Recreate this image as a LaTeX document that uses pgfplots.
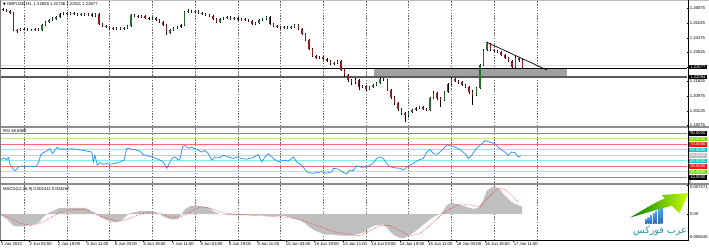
\documentclass[border=0pt]{standalone}
\usepackage{fontspec}
\setmainfont{Liberation Sans}
\newfontfamily\dejavu{DejaVu Sans}
\newfontfamily\arabicfont[Script=Arabic]{DejaVu Sans}
\usepackage{pgfplots}
\pgfplotsset{compat=1.18}
\usepackage{pgfplotstable}
\TeXXeTstate=1
\newcommand\sm{\fontsize{4.2}{4.6}\selectfont}
\definecolor{upc}{RGB}{35,110,40}
\definecolor{dnc}{RGB}{150,25,30}
\definecolor{rsiblue}{RGB}{30,144,255}
\definecolor{lvgreen}{RGB}{195,238,120}
\definecolor{lvred}{RGB}{240,110,110}
\definecolor{lvcyan}{RGB}{150,228,235}
\definecolor{lvgray}{RGB}{205,205,205}
\definecolor{boxgreen}{RGB}{124,220,0}
\definecolor{boxcyan}{RGB}{0,200,210}
\definecolor{boxred}{RGB}{255,20,20}
\definecolor{logoteal}{RGB}{40,150,160}
\definecolor{logoblue}{RGB}{45,105,175}

\pgfplotstableread{
x o h l c
1 1.2605 1.2610 1.2593 1.2599
3 1.2599 1.2605 1.2587 1.2593
5 1.2593 1.2599 1.2575 1.2581
7 1.2581 1.2587 1.2477 1.2482
9 1.2482 1.2488 1.2465 1.2480
11 1.2480 1.2494 1.2477 1.2488
13 1.2488 1.2494 1.2482 1.2486
15 1.2486 1.2494 1.2477 1.2482
17 1.2482 1.2488 1.2477 1.2484
19 1.2484 1.2494 1.2477 1.2488
21 1.2488 1.2494 1.2477 1.2482
23 1.2482 1.2517 1.2477 1.2512
25 1.2512 1.2535 1.2506 1.2529
27 1.2529 1.2546 1.2523 1.2541
29 1.2541 1.2558 1.2535 1.2546
31 1.2546 1.2564 1.2541 1.2558
33 1.2558 1.2581 1.2552 1.2575
35 1.2575 1.2587 1.2570 1.2581
37 1.2581 1.2587 1.2573 1.2575
39 1.2575 1.2587 1.2570 1.2581
41 1.2581 1.2587 1.2570 1.2575
43 1.2575 1.2581 1.2564 1.2570
45 1.2570 1.2581 1.2564 1.2575
47 1.2575 1.2581 1.2564 1.2570
49 1.2570 1.2581 1.2564 1.2575
51 1.2575 1.2581 1.2558 1.2564
53 1.2564 1.2581 1.2558 1.2575
55 1.2575 1.2581 1.2512 1.2517
57 1.2517 1.2523 1.2500 1.2506
59 1.2506 1.2512 1.2494 1.2500
61 1.2500 1.2506 1.2488 1.2494
63 1.2494 1.2500 1.2482 1.2488
65 1.2488 1.2500 1.2482 1.2494
67 1.2494 1.2500 1.2482 1.2488
69 1.2488 1.2500 1.2482 1.2494
71 1.2494 1.2512 1.2488 1.2506
73 1.2506 1.2575 1.2500 1.2570
75 1.2570 1.2575 1.2558 1.2564
77 1.2564 1.2570 1.2552 1.2558
79 1.2558 1.2570 1.2552 1.2564
81 1.2564 1.2570 1.2546 1.2552
83 1.2552 1.2558 1.2541 1.2546
85 1.2546 1.2558 1.2541 1.2552
87 1.2552 1.2558 1.2535 1.2541
89 1.2541 1.2546 1.2523 1.2529
91 1.2529 1.2535 1.2506 1.2512
93 1.2512 1.2517 1.2453 1.2465
95 1.2465 1.2488 1.2459 1.2482
97 1.2482 1.2500 1.2477 1.2494
99 1.2494 1.2506 1.2488 1.2500
101 1.2500 1.2517 1.2494 1.2512
103 1.2512 1.2593 1.2506 1.2587
105 1.2587 1.2605 1.2581 1.2593
107 1.2593 1.2599 1.2581 1.2587
109 1.2587 1.2599 1.2581 1.2593
111 1.2593 1.2599 1.2575 1.2581
113 1.2581 1.2587 1.2570 1.2575
115 1.2575 1.2581 1.2564 1.2570
117 1.2570 1.2575 1.2558 1.2564
119 1.2564 1.2570 1.2541 1.2546
121 1.2546 1.2552 1.2523 1.2529
123 1.2529 1.2552 1.2523 1.2546
125 1.2546 1.2558 1.2541 1.2552
127 1.2552 1.2564 1.2546 1.2558
129 1.2558 1.2564 1.2541 1.2546
131 1.2546 1.2558 1.2541 1.2552
133 1.2552 1.2558 1.2535 1.2541
135 1.2541 1.2552 1.2535 1.2546
137 1.2546 1.2552 1.2535 1.2541
139 1.2541 1.2546 1.2529 1.2535
141 1.2535 1.2541 1.2512 1.2517
143 1.2517 1.2529 1.2512 1.2523
145 1.2523 1.2546 1.2517 1.2541
147 1.2541 1.2552 1.2535 1.2546
149 1.2546 1.2564 1.2541 1.2558
151 1.2558 1.2564 1.2512 1.2517
153 1.2517 1.2523 1.2500 1.2506
155 1.2506 1.2512 1.2494 1.2500
157 1.2500 1.2506 1.2488 1.2494
159 1.2494 1.2506 1.2488 1.2500
161 1.2500 1.2506 1.2488 1.2494
163 1.2494 1.2506 1.2488 1.2500
165 1.2500 1.2517 1.2494 1.2512
167 1.2512 1.2517 1.2482 1.2488
169 1.2488 1.2494 1.2453 1.2459
171 1.2459 1.2465 1.2418 1.2424
173 1.2424 1.2430 1.2366 1.2372
175 1.2372 1.2378 1.2325 1.2331
177 1.2331 1.2337 1.2314 1.2319
179 1.2319 1.2331 1.2314 1.2325
181 1.2325 1.2331 1.2308 1.2314
183 1.2314 1.2319 1.2296 1.2302
185 1.2302 1.2308 1.2279 1.2285
187 1.2285 1.2296 1.2279 1.2290
189 1.2290 1.2308 1.2285 1.2302
191 1.2302 1.2308 1.2244 1.2250
193 1.2250 1.2255 1.2209 1.2220
195 1.2220 1.2226 1.2180 1.2191
197 1.2191 1.2197 1.2162 1.2180
199 1.2180 1.2203 1.2168 1.2191
201 1.2191 1.2197 1.2133 1.2151
203 1.2151 1.2162 1.2145 1.2156
205 1.2156 1.2162 1.2127 1.2139
207 1.2139 1.2156 1.2133 1.2151
209 1.2151 1.2168 1.2145 1.2162
211 1.2162 1.2180 1.2156 1.2174
213 1.2174 1.2209 1.2168 1.2197
215 1.2197 1.2203 1.2186 1.2191
217 1.2191 1.2197 1.2127 1.2133
219 1.2133 1.2139 1.2081 1.2092
221 1.2092 1.2098 1.2046 1.2057
223 1.2057 1.2063 1.2011 1.2022
225 1.2022 1.2028 1.1988 1.1999
227 1.1999 1.2005 1.1947 1.1988
229 1.1988 1.2011 1.1976 1.2005
231 1.2005 1.2022 1.1999 1.2017
233 1.2017 1.2034 1.2011 1.2028
235 1.2028 1.2040 1.2022 1.2034
237 1.2034 1.2040 1.2017 1.2022
239 1.2022 1.2028 1.2011 1.2017
241 1.2017 1.2092 1.2011 1.2086
243 1.2086 1.2127 1.2081 1.2116
245 1.2116 1.2121 1.2075 1.2086
247 1.2086 1.2092 1.2034 1.2075
249 1.2075 1.2127 1.2069 1.2121
251 1.2121 1.2174 1.2116 1.2168
253 1.2168 1.2209 1.2162 1.2197
255 1.2197 1.2203 1.2180 1.2186
257 1.2186 1.2191 1.2168 1.2180
259 1.2180 1.2186 1.2156 1.2162
261 1.2162 1.2168 1.2145 1.2151
263 1.2151 1.2156 1.2110 1.2121
265 1.2121 1.2133 1.2046 1.2104
267 1.2104 1.2151 1.2098 1.2145
269 1.2145 1.2285 1.2139 1.2279
271 1.2279 1.2372 1.2273 1.2366
273 1.2366 1.2413 1.2360 1.2401
275 1.2401 1.2407 1.2360 1.2366
277 1.2366 1.2372 1.2354 1.2360
279 1.2360 1.2366 1.2349 1.2354
281 1.2354 1.2360 1.2331 1.2337
283 1.2337 1.2343 1.2314 1.2319
285 1.2319 1.2325 1.2296 1.2302
287 1.2302 1.2308 1.2261 1.2267
289 1.2267 1.2331 1.2261 1.2319
291 1.2319 1.2325 1.2296 1.2308
293 1.2308 1.2314 1.2261 1.2267
}\price

\pgfplotstableread{
x r
0 42.3
1.3 45.2
3.2 42.3
4.1 45.9
5.1 33.4
6.9 24.5
7.9 22.0
8.8 24.5
9.7 29.1
11.6 30.4
13.5 29.1
16.3 30.4
19.1 29.1
20.1 30.9
21.5 41.1
22.3 51.3
23.8 54.8
25.7 57.7
27.5 62.0
29.0 53.0
30.3 58.9
31.6 64.8
32.8 62.0
34.1 60.7
35.0 62.0
36.9 60.7
39.7 62.0
42.5 60.7
46.2 58.9
49.0 57.2
51.0 55.9
51.9 38.0
52.8 50.0
54.1 32.1
55.6 37.0
57.5 33.4
59.4 35.2
61.2 33.4
64.0 35.2
66.9 38.0
69.1 41.1
70.6 62.0
71.5 63.0
73.4 60.7
75.3 60.2
78.1 57.2
79.9 51.3
82.8 48.8
85.6 45.9
88.4 42.9
91.2 38.0
93.1 26.3
94.0 32.1
95.9 44.1
97.8 47.0
99.6 41.1
100.6 44.1
102.1 66.6
103.4 67.9
105.2 63.0
107.1 64.8
109.9 60.7
112.8 55.9
114.6 58.9
116.5 53.0
118.4 41.1
120.2 47.0
123.0 45.9
124.9 50.0
127.7 47.0
130.5 44.1
132.4 47.0
135.2 44.1
138.0 42.9
141.7 45.9
144.6 51.3
146.5 38.0
148.3 47.0
150.2 53.0
153.0 44.1
155.8 38.0
158.6 41.1
161.4 39.3
164.2 47.0
166.1 38.0
168.9 32.1
171.7 20.2
174.6 17.3
177.4 18.4
180.2 20.2
183.0 17.3
185.8 20.2
186.7 26.3
189.5 25.0
191.4 20.2
194.2 16.1
196.1 23.2
197.9 22.0
199.8 30.9
202.6 28.0
205.4 29.1
208.3 33.4
211.1 44.1
212.9 47.0
214.8 44.1
216.7 35.2
218.5 29.1
221.3 27.3
224.2 26.3
226.0 23.2
228.8 30.9
231.6 35.2
234.4 41.1
237.2 44.1
239.2 55.9
241.0 60.7
242.9 53.0
245.1 51.8
247.6 58.9
249.4 64.8
250.4 69.1
253.2 66.6
255.1 64.8
256.9 62.0
259.7 55.9
261.6 50.0
262.5 44.1
264.4 50.0
267.2 63.0
270.1 70.9
271.9 76.8
274.7 73.8
277.5 70.9
280.3 62.0
283.1 55.9
285.0 50.0
286.9 55.9
288.8 54.8
290.6 47.0
292.0 48.7
}\rsi

\pgfplotstableread{
x v
0 0
0 -0.00026
1.7 -0.00078
3.4 -0.0013
5.1 -0.00208
6.7 -0.00286
9.0 -0.00312
10.7 -0.00312
12.4 -0.00312
14.6 -0.00286
16.3 -0.00286
18.0 -0.0026
20.2 -0.00234
21.9 -0.00182
23.6 -0.00078
25.8 0
27.5 0.00052
29.2 0.00078
31.5 0.0013
33.1 0.00156
36.0 0.00156
38.8 0.00156
41.6 0.00156
44.4 0.00156
47.2 0.00156
48.9 0.0013
50.6 0.00078
52.8 0.00026
54.5 -0.00026
56.2 -0.00078
58.4 -0.0013
61.2 -0.00182
64.0 -0.00208
66.9 -0.00182
68.5 -0.0013
70.2 -0.00052
72.5 0.00026
75.3 0.00052
78.1 0.00078
80.9 0.00078
83.7 0.00078
86.5 0.00052
89.3 0
91.0 -0.00052
93.3 -0.00104
96.1 -0.0013
98.9 -0.0013
100.6 -0.00052
102.2 0.00052
104.5 0.00156
106.7 0.00208
109.0 0.00208
111.8 0.00208
114.6 0.00182
117.4 0.00156
119.1 0.00078
121.4 0.00026
123.0 0
128.7 -0.00026
137.1 -0.00026
145.5 -0.00026
151.1 -0.00052
159.6 -0.00052
164.0 -0.00104
168.0 -0.00156
170.8 -0.00234
173.6 -0.00338
176.4 -0.00416
179.2 -0.00468
182.0 -0.0052
186.5 -0.0052
190.4 -0.00546
196.1 -0.00546
201.7 -0.00494
204.5 -0.00442
207.3 -0.00338
210.1 -0.00286
214.6 -0.0026
216.9 -0.00338
218.5 -0.00442
221.3 -0.00546
224.2 -0.00598
227.0 -0.00598
229.8 -0.0052
232.6 -0.00442
235.4 -0.00338
238.2 -0.00234
241.0 -0.0013
243.8 -0.00052
246.6 0
248.3 0.00078
250.6 0.00234
253.4 0.00286
257.9 0.00234
261.8 0.00182
265.2 0.0013
268.0 0.00156
270.8 0.00338
273.0 0.00598
275.8 0.00676
277.5 0.00702
280.3 0.00624
283.1 0.00468
286.0 0.00338
288.8 0.0026
291.6 0.00208
292.7 0.00208
292.7 0
}\hist

\pgfplotstableread{
x v
0 0
5.1 -0.00104
10.7 -0.00234
16.3 -0.00286
21.9 -0.00234
27.5 -0.00104
33.1 0.00052
38.8 0.00104
44.4 0.0013
50.0 0.00078
55.6 -0.00052
61.2 -0.0013
66.9 -0.00182
72.5 -0.00104
78.1 0
83.7 0.00052
89.3 0.00026
94.9 -0.00078
100.6 -0.00078
106.2 0.00052
111.8 0.00182
117.4 0.00156
123.0 0.00052
130.3 0
139.9 -0.00026
149.4 -0.00052
158.4 -0.00078
168.0 -0.0013
177.5 -0.00286
186.5 -0.00442
196.1 -0.0052
201.7 -0.00546
207.3 -0.00416
212.9 -0.00286
218.5 -0.00286
224.2 -0.00416
229.8 -0.00546
235.4 -0.00494
241.0 -0.00286
246.6 -0.00052
252.2 0.0013
257.9 0.0026
263.5 0.00234
269.1 0.00182
274.7 0.00468
279.2 0.0065
283.1 0.00624
287.1 0.00468
290.5 0.00312
}\sig

\pgfplotsset{
  panel/.style={scale only axis, width=686pt, xmin=0, xmax=385.4,
    axis line style={draw=none}, clip mode=individual,
    scaled y ticks=false, scaled x ticks=false,
    ticklabel style={font=\sm, inner sep=0.6pt},
    tick align=outside, major tick length=2pt, tick style={black, line width=0.4pt},
    ytick pos=right, yticklabel pos=right,
    extra x ticks={13,37,...,301}, extra x tick labels={},
    extra x tick style={grid=major, major tick length=0pt},
    major grid style={black!60, dash pattern=on 1.4pt off 1.4pt, line width=0.4pt}}
}
\tikzset{lvl/.style={anchor=west, inner sep=0.4pt, text=white, font=\sm, minimum height=4.6pt, text height=3pt, text depth=0pt, minimum width=19pt, xshift=1.2pt}}

\begin{document}
\begin{tikzpicture}[x=1pt,y=1pt]
\useasboundingbox (0,0) rectangle (709,250);
\fill[white] (0,0) rectangle (709,250);

% ---------------- price panel
\begin{axis}[panel, at={(1pt,124pt)}, anchor=south west, height=125pt,
  ymin=1.19237, ymax=1.26512, xtick=\empty,
  ytick={1.19275,1.20125,1.20975,1.21825,1.22675,1.23525,1.24375,1.25225,1.26075},
  yticklabels={1.19275,1.20125,1.20975,1.21825,,1.23525,1.24375,1.25225,1.26075},
  yticklabel style={anchor=west}]
\addplot[fill=black!37, draw=none] coordinates {(209.6,1.2261) (318,1.2261) (318,1.2209) (209.6,1.2209)};
\addplot[black!12, line width=0.5pt] coordinates {(0,1.2279) (385.4,1.2279)};
\addplot[black, line width=1.1pt] coordinates {(0,1.2260) (385.4,1.2260)};
\addplot[black!65, line width=1.5pt] coordinates {(0,1.2210) (385.4,1.2210)};
\addplot[draw=none, error bars/.cd, y dir=both, y explicit, error mark=none,
  error bar style={draw=black, line width=0.45pt}]
  table[x=x, y=c, y error plus expr={\thisrow{h}-\thisrow{c}}, y error minus expr={\thisrow{c}-\thisrow{l}}] {\price};
\addplot[draw=none, error bars/.cd, y dir=both, y explicit, error mark=none,
  error bar style={draw=upc, line width=1.4pt}]
  table[x=x, y=c, y error plus expr={0}, y error minus expr={max(\thisrow{c}-\thisrow{o},0)}] {\price};
\addplot[draw=none, error bars/.cd, y dir=both, y explicit, error mark=none,
  error bar style={draw=dnc, line width=1.4pt}]
  table[x=x, y=c, y error plus expr={max(\thisrow{o}-\thisrow{c},0)}, y error minus expr={0}] {\price};
\addplot[black, line width=0.7pt] coordinates {(272.5,1.2413) (306.7,1.2250)};
\node[anchor=north west, font=\sm, inner sep=0pt] at (rel axis cs:0,1) [xshift=2pt, yshift=-1.8pt]
  {{\dejavu\fontsize{3.6}{4}\selectfont ▼} GBPUSD,H1\ \ 1.22829 1.22736 1.22511 1.22677};
\node[lvl, fill=black] at (axis cs:385.4,1.2267) {1.22677};
\node[lvl, fill=black] at (axis cs:385.4,1.2210) {1.22094};
\end{axis}

% ---------------- RSI panel
\begin{axis}[panel, at={(1pt,67.2pt)}, anchor=south west, height=55pt,
  ymin=0, ymax=100, xtick=\empty, ytick=\empty]
\addplot[black!45, line width=1pt] coordinates {(0,90) (385.4,90)};
\addplot[lvgreen, line width=1pt] coordinates {(0,80) (385.4,80)};
\addplot[lvred, line width=1pt] coordinates {(0,70) (385.4,70)};
\addplot[lvcyan, line width=1pt] coordinates {(0,60) (385.4,60)};
\addplot[lvgray, line width=1pt] coordinates {(0,50) (385.4,50)};
\addplot[lvcyan, line width=1pt] coordinates {(0,40) (385.4,40)};
\addplot[lvred, line width=1pt] coordinates {(0,30) (385.4,30)};
\addplot[lvgreen, line width=1pt] coordinates {(0,20) (385.4,20)};
\addplot[black!45, line width=1pt] coordinates {(0,10) (385.4,10)};
\addplot[rsiblue, line width=0.7pt] table[x=x, y=r] {\rsi};
\node[anchor=north west, font=\sm, inner sep=0pt] at (rel axis cs:0,1) [xshift=2pt, yshift=-2pt] {RSI 48.6808};
\node[lvl, fill=black] at (axis cs:385.4,90) {90.0000};
\node[lvl, fill=boxgreen] at (axis cs:385.4,80) {80.0000};
\node[lvl, fill=boxred] at (axis cs:385.4,70) {70.0000};
\node[lvl, fill=boxcyan] at (axis cs:385.4,60) {60.0000};
\node[lvl, fill=black!25] at (axis cs:385.4,50) {50.0000};
\node[lvl, fill=boxcyan] at (axis cs:385.4,40) {40.0000};
\node[lvl, fill=boxred] at (axis cs:385.4,30) {30.0000};
\node[lvl, fill=boxgreen] at (axis cs:385.4,20) {20.0000};
\node[lvl, fill=black] at (axis cs:385.4,10) {10.0000};
\node[anchor=west, font=\sm, inner sep=0pt] at (axis cs:385.4,1) [xshift=1.5pt] {0};
\end{axis}

% ---------------- MACD panel
\begin{axis}[panel, at={(1pt,10pt)}, anchor=south west, height=55pt,
  ymin=-0.006545, ymax=0.007371,
  xtick={0,16,...,288}, xtick pos=bottom,
  xticklabels={1 Jun 2022, 2 Jun 03:00, 2 Jun 19:00, 3 Jun 11:00, 6 Jun 03:00, 6 Jun 19:00, 7 Jun 11:00, 8 Jun 03:00, 8 Jun 19:00, 9 Jun 11:00, 10 Jun 03:00, 10 Jun 19:00, 13 Jun 11:00, 14 Jun 03:00, 14 Jun 19:00, 15 Jun 11:00, 16 Jun 03:00, 16 Jun 19:00, 17 Jun 11:00},
  xticklabel style={anchor=north west, inner sep=0.5pt, xshift=-0.5pt},
  ytick={-0.006545,0,0.007371}, yticklabels={}]
\addplot[fill=black!25, draw=none] table[x=x, y=v] {\hist};
\addplot[red!85, line width=0.5pt, dash pattern=on 0.6pt off 0.9pt] table[x=x, y=v] {\sig};
\node[anchor=north west, font=\sm, inner sep=0pt] at (rel axis cs:0,1) [xshift=2pt, yshift=-2pt] {MACD(12,26,9) 0.002411 0.003267};
\node[anchor=north west, font=\sm, inner sep=0pt] at (axis cs:385.4,0.007371) [xshift=3pt, yshift=-0.6pt] {0.007371};
\node[anchor=west, font=\sm, inner sep=0pt] at (axis cs:385.4,0) [xshift=3pt] {0.00};
\node[anchor=south west, font=\sm, inner sep=0pt] at (axis cs:385.4,-0.006545) [xshift=1.5pt, yshift=1.2pt] {-0.006545};
\end{axis}

% ---------------- frame and separators
\fill[black!45] (0,122.2) rectangle (709,124.2);
\fill[black!45] (0,65) rectangle (709,67.2);
\draw[black!25, line width=0.6pt] (0,249.7) -- (709,249.7);
\draw[black, line width=0.6pt] (687.8,10) -- (687.8,250);
\draw[black, line width=0.6pt] (0,10) -- (687.8,10);
\draw[black!50, line width=0.5pt] (0.3,10) -- (0.3,250);

% ---------------- watermark logo
\foreach \i/\hh in {0/4,1/6,2/8,3/10,4/12,5/14,6/16}
  \shade[top color=cyan!50!blue!70, bottom color=logoblue] (645+2.6*\i,27) rectangle ++(1.8,\hh);
\shade[left color=green!50!black, right color=yellow!80!green]
  (630,32.5) .. controls (645,41) and (655,48) .. (665,51.5) -- (661.7,55) -- (688.5,57) -- (679.3,36.7) -- (672,44.2)
  .. controls (658,41) and (643,36) .. (630,32.5) -- cycle;
\node[inner sep=0pt, text=logoteal] at (660,19.2) {\arabicfont\fontsize{9.5}{10}\selectfont\beginR عرب فوركس\endR};
\end{tikzpicture}
\end{document}
